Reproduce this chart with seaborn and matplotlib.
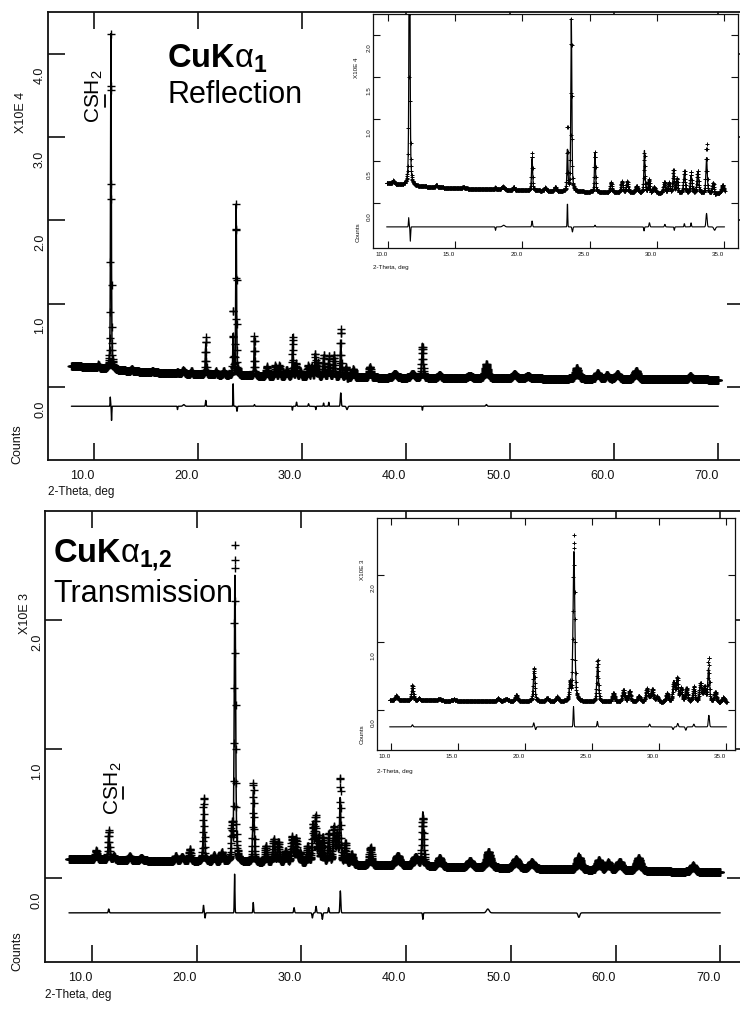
import numpy as np
import pandas as pd
import seaborn as sns
import matplotlib
matplotlib.use("Agg")
import matplotlib.pyplot as plt
from matplotlib import transforms
from matplotlib.lines import Line2D
from matplotlib.font_manager import FontProperties

W, H, DPI = 740, 1010, 100

# ---------------------------------------------------------------- data
# scan range (deg 2-theta) and step
scan_start, scan_end, scan_step = 7.8, 70.0, 0.02
inset_start, inset_end = 9.9, 35.05

# Reflection geometry, CuKa1 -- intensities in units of 1e4 counts
refl_bg_tt = [7.8, 10.0, 12.0, 15.0, 20.0, 25.0, 30.0, 35.0, 40.0, 50.0, 60.0, 70.0]
refl_bg = [0.255, 0.235, 0.205, 0.18, 0.155, 0.135, 0.12, 0.115, 0.11, 0.105, 0.095, 0.09]
refl_peak_tt = [10.4, 11.6, 13.6, 15.6, 18.0, 18.5, 19.35, 20.72, 21.7, 22.45, 23.35, 23.64,
                25.4, 26.6, 27.4, 27.8, 28.5, 29.08, 29.4, 29.8, 30.55, 30.9, 31.25, 31.5,
                32.05, 32.55, 33.05, 33.7, 34.2, 34.9, 36.5, 38.9, 40.6, 41.55, 43.2, 46.1,
                47.7, 50.4, 51.7, 56.4, 58.4, 59.3, 60.3, 62.1, 67.3]
refl_peak_I = [0.04, 4.03, 0.025, 0.015, 0.04, 0.025, 0.04, 0.38, 0.04, 0.05, 0.5, 2.05,
               0.46, 0.12, 0.13, 0.13, 0.08, 0.5, 0.13, 0.07, 0.12, 0.12, 0.28, 0.17,
               0.23, 0.21, 0.26, 0.42, 0.13, 0.1, 0.13, 0.05, 0.05, 0.42, 0.04, 0.03,
               0.15, 0.05, 0.03, 0.13, 0.07, 0.05, 0.06, 0.1, 0.04]
refl_peak_fwhm = [0.15, 0.085, 0.15, 0.2, 0.1, 0.2, 0.12, 0.1, 0.15, 0.15, 0.08, 0.09,
                  0.1, 0.15, 0.15, 0.15, 0.2, 0.1, 0.12, 0.2, 0.15, 0.15, 0.12, 0.12,
                  0.15, 0.15, 0.15, 0.12, 0.15, 0.2, 0.2, 0.4, 0.4, 0.15, 0.3, 0.4,
                  0.35, 0.4, 0.4, 0.35, 0.35, 0.3, 0.4, 0.4, 0.35]
refl_resid_tt = [11.54, 11.66, 18.0, 18.6, 20.72, 23.35, 23.72, 25.4, 29.05, 29.45, 30.6,
                 31.3, 32.05, 32.55, 33.7, 34.3, 41.55, 47.7]
refl_resid_amp = [0.11, -0.17, -0.04, 0.02, 0.07, 0.30, -0.06, 0.02, -0.05, 0.05, 0.03,
                  -0.04, 0.04, 0.05, 0.16, -0.04, -0.05, 0.02]
refl_resid_w = [0.05, 0.05, 0.06, 0.2, 0.08, 0.05, 0.08, 0.08, 0.06, 0.08, 0.08,
                0.06, 0.06, 0.06, 0.1, 0.15, 0.06, 0.15]

# Transmission geometry, CuKa1,2 -- intensities in units of 1e3 counts
trans_bg_tt = [7.8, 10.0, 15.0, 20.0, 25.0, 30.0, 35.0, 40.0, 50.0, 60.0, 70.0]
trans_bg = [0.15, 0.145, 0.135, 0.13, 0.12, 0.11, 0.10, 0.09, 0.075, 0.055, 0.045]
trans_peak_tt = [10.4, 11.6, 12.1, 13.6, 14.7, 18.0, 18.6, 19.35, 20.68, 21.65, 22.4, 23.35,
                 23.65, 25.42, 26.6, 27.35, 27.8, 28.5, 29.1, 29.5, 29.86, 30.6, 31.1, 31.35,
                 31.65, 32.05, 32.6, 33.1, 33.4, 33.7, 34.2, 34.8, 36.6, 39.2, 40.9, 41.6,
                 43.2, 46.1, 47.9, 50.5, 52.0, 56.5, 58.4, 59.3, 60.4, 62.2, 67.4]
trans_peak_I = [0.07, 0.2, 0.03, 0.03, 0.02, 0.04, 0.03, 0.09, 0.45, 0.05, 0.07, 0.25,
                2.25, 0.55, 0.13, 0.18, 0.16, 0.09, 0.2, 0.19, 0.08, 0.13, 0.3, 0.32,
                0.2, 0.22, 0.19, 0.28, 0.22, 0.5, 0.16, 0.08, 0.14, 0.08, 0.07, 0.42,
                0.07, 0.05, 0.1, 0.07, 0.05, 0.13, 0.08, 0.06, 0.07, 0.1, 0.05]
trans_peak_fwhm = [0.2, 0.15, 0.2, 0.25, 0.3, 0.2, 0.3, 0.18, 0.15, 0.2, 0.2, 0.12,
                   0.15, 0.15, 0.2, 0.2, 0.2, 0.25, 0.2, 0.2, 0.2, 0.2, 0.18, 0.18,
                   0.18, 0.2, 0.2, 0.2, 0.2, 0.15, 0.2, 0.25, 0.25, 0.5, 0.5, 0.2,
                   0.4, 0.5, 0.5, 0.5, 0.5, 0.4, 0.4, 0.4, 0.5, 0.5, 0.4]
trans_resid_tt = [11.6, 20.65, 20.8, 23.62, 25.4, 29.3, 31.05, 31.4, 32.0, 32.6, 33.72,
                  41.6, 47.8, 56.5]
trans_resid_amp = [0.03, 0.06, -0.04, 0.30, 0.08, 0.04, -0.04, 0.05, -0.05, 0.04, 0.17,
                   -0.05, 0.03, -0.035]
trans_resid_w = [0.1, 0.08, 0.08, 0.07, 0.08, 0.1, 0.1, 0.1, 0.1, 0.1, 0.1,
                 0.08, 0.3, 0.2]

x_ticks_main = [10, 20, 30, 40, 50, 60, 70]
x_ticks_inset = [10, 15, 20, 25, 30, 35]


# ---------------------------------------------------------------- profile model
def pseudo_voigt(tt, pos, height, fwhm, eta=0.5):
    d2 = (tt - pos) ** 2 / fwhm ** 2
    return height * (eta / (1 + 4 * d2) + (1 - eta) * np.exp(-4 * np.log(2) * d2))


def gaussian(tt, pos, amp, fwhm):
    return amp * np.exp(-4 * np.log(2) * (tt - pos) ** 2 / fwhm ** 2)


def build_pattern(bg_tt, bg, p_tt, p_i, p_w, r_tt, r_a, r_w):
    tt = np.round(np.arange(scan_start, scan_end + 1e-9, scan_step), 4)
    calc = np.interp(tt, bg_tt, bg)
    for p, i, w in zip(p_tt, p_i, p_w):
        calc = calc + pseudo_voigt(tt, p, i, w)
    resid = np.zeros_like(tt)
    for p, a, w in zip(r_tt, r_a, r_w):
        resid = resid + gaussian(tt, p, a, w)
    return pd.DataFrame({"tt": tt, "calc": calc, "obs": calc + resid, "diff": resid})


refl = build_pattern(refl_bg_tt, refl_bg, refl_peak_tt, refl_peak_I, refl_peak_fwhm,
                     refl_resid_tt, refl_resid_amp, refl_resid_w)
trans = build_pattern(trans_bg_tt, trans_bg, trans_peak_tt, trans_peak_I, trans_peak_fwhm,
                      trans_resid_tt, trans_resid_amp, trans_resid_w)

# ---------------------------------------------------------------- style
sns.set_theme(style="ticks")
plt.rcParams["font.family"] = ["Liberation Sans", "DejaVu Sans"]
plt.rcParams["mathtext.fontset"] = "custom"
plt.rcParams["mathtext.rm"] = "Liberation Sans"
plt.rcParams["mathtext.bf"] = "Liberation Sans:bold"
plt.rcParams["mathtext.it"] = "Liberation Sans:italic"
plt.rcParams["axes.edgecolor"] = "#111111"
plt.rcParams["xtick.color"] = "#111111"
plt.rcParams["ytick.color"] = "#111111"

fig = plt.figure(figsize=(W / DPI, H / DPI), dpi=DPI)


def rect(left, top, right, bottom):
    return [left / W, 1 - bottom / H, (right - left) / W, (bottom - top) / H]


def fx(x):
    return x / W


def fy(y):
    return 1 - y / H


def ytick_texts(ax, values, labels, dx, dy, size):
    base = transforms.blended_transform_factory(ax.transAxes, ax.transData)
    tr = transforms.offset_copy(base, fig=fig, x=dx, y=dy, units="dots")
    for v, lab in zip(values, labels):
        ax.text(0, v, lab, transform=tr, rotation=90, ha="center", va="center",
                fontsize=size, clip_on=False, color="#111111")


def draw_pattern(ax, df, offset, ms, mlw, lw):
    sns.scatterplot(data=df, x="tt", y="obs", marker="+", s=ms, linewidth=mlw,
                    color="black", ax=ax, legend=False, zorder=2)
    sns.lineplot(data=df, x="tt", y="calc", color="black", lw=lw, ax=ax,
                 estimator=None, sort=False, legend=False, zorder=3)
    sns.lineplot(x=df["tt"], y=df["diff"] + offset, color="black", lw=lw * 0.9, ax=ax,
                 estimator=None, sort=False, legend=False, zorder=3)
    ax.set_xlabel("")
    ax.set_ylabel("")


def style_main(ax, xlim, ylim, yticks):
    ax.set_xlim(*xlim)
    ax.set_ylim(*ylim)
    ax.set_xticks(x_ticks_main)
    ax.set_xticklabels([f"{t:.1f}" for t in x_ticks_main], ha="right")
    ax.set_yticks(yticks)
    ax.tick_params(axis="both", direction="in", length=12, width=1.2,
                   top=True, right=True, labelleft=False, labelsize=9, pad=7)
    for s in ax.spines.values():
        s.set_linewidth(1.3)
    ax.spines["right"].set_visible(False)
    ytick_texts(ax, yticks, [f"{v:.1f}" for v in yticks], -8, -22, 9)


def style_inset(ax, xlim, ylim, yticks):
    ax.set_facecolor("white")
    ax.set_xlim(*xlim)
    ax.set_ylim(*ylim)
    ax.set_xticks(x_ticks_inset)
    ax.set_xticklabels([f"{t:.1f}" for t in x_ticks_inset], ha="right")
    ax.set_yticks(yticks)
    ax.tick_params(axis="both", direction="in", length=5, width=0.8,
                   top=True, right=True, labelleft=False, labelsize=4.5, pad=3)
    for s in ax.spines.values():
        s.set_linewidth(0.9)
    ytick_texts(ax, yticks, [f"{v:.1f}" for v in yticks], -4, -13, 4.5)


# ---------------------------------------------------------------- top: reflection
ax1 = fig.add_axes(rect(48, 12, 744, 460))
draw_pattern(ax1, refl, -0.23, 36, 1.0, 1.1)
style_main(ax1, (5.55, 72.47), (-0.875, 4.50), [0, 1, 2, 3, 4])

in1 = fig.add_axes(rect(373, 14, 738, 248), zorder=5)
sub1 = refl[(refl.tt >= inset_start) & (refl.tt <= inset_end)]
draw_pattern(in1, sub1, -0.28, 9, 0.7, 0.9)
style_inset(in1, (8.884, 36.04), (-0.531, 2.251), [0.0, 0.5, 1.0, 1.5, 2.0])

# ---------------------------------------------------------------- bottom: transmission
ax2 = fig.add_axes(rect(45, 511, 744, 962))
draw_pattern(ax2, trans, -0.27, 36, 1.0, 1.1)
style_main(ax2, (5.511, 72.27), (-0.651, 2.845), [0, 1, 2])

in2 = fig.add_axes(rect(377, 518, 735, 750), zorder=5)
sub2 = trans[(trans.tt >= inset_start) & (trans.tt <= inset_end)]
draw_pattern(in2, sub2, -0.25, 9, 0.7, 0.9)
style_inset(in2, (8.955, 35.67), (-0.593, 2.844), [0.0, 1.0, 2.0])

# ---------------------------------------------------------------- axis captions
cap = dict(color="#111111")
fig.text(fx(21), fy(112), "X10E 4", rotation=90, ha="center", va="center", fontsize=9, **cap)
fig.text(fx(17), fy(444), "Counts", rotation=90, ha="center", va="center", fontsize=9, **cap)
fig.text(fx(48), fy(492), "2-Theta, deg", ha="left", va="center", fontsize=8.5, **cap)
fig.text(fx(25), fy(613), "X10E 3", rotation=90, ha="center", va="center", fontsize=9, **cap)
fig.text(fx(17), fy(951), "Counts", rotation=90, ha="center", va="center", fontsize=9, **cap)
fig.text(fx(45), fy(995), "2-Theta, deg", ha="left", va="center", fontsize=8.5, **cap)

fig.text(fx(357), fy(68), "X10E 4", rotation=90, ha="center", va="center", fontsize=4.5, zorder=6, **cap)
fig.text(fx(358), fy(232), "Counts", rotation=90, ha="center", va="center", fontsize=4.5, zorder=6, **cap)
fig.text(fx(373), fy(268), "2-Theta, deg", ha="left", va="center", fontsize=4.5, zorder=6, **cap)
fig.text(fx(362), fy(570), "X10E 3", rotation=90, ha="center", va="center", fontsize=4.5, zorder=6, **cap)
fig.text(fx(362), fy(734), "Counts", rotation=90, ha="center", va="center", fontsize=4.5, zorder=6, **cap)
fig.text(fx(377), fy(771), "2-Theta, deg", ha="left", va="center", fontsize=4.5, zorder=6, **cap)

# ---------------------------------------------------------------- annotations
fig.text(fx(167), fy(68), r"$\mathbf{CuK}\mathrm{\alpha}_{\mathbf{1}}$", ha="left",
         va="baseline", fontsize=23.5, color="black")
fig.text(fx(167), fy(103), "Reflection", ha="left", va="baseline", fontsize=22,
         family="Liberation Sans", color="black")
fig.text(fx(53), fy(562), r"$\mathbf{CuK}\mathrm{\alpha}_{\mathbf{1{,}2}}$", ha="left",
         va="baseline", fontsize=23.5, color="black")
fig.text(fx(53), fy(602), "Transmission", ha="left", va="baseline", fontsize=22,
         family="Liberation Sans", color="black")

# gypsum label with underlined S
csh_font = FontProperties(family="Liberation Sans", size=15)
renderer = fig.canvas.get_renderer()
w_c = renderer.get_text_width_height_descent("C", csh_font, ismath=False)[0]
w_cs = renderer.get_text_width_height_descent("CS", csh_font, ismath=False)[0]
for bx, by in [(100, 123), (119, 815)]:
    fig.text(fx(bx), fy(by), r"CSH$_2$", rotation=90, rotation_mode="anchor",
             ha="left", va="baseline", fontproperties=csh_font, color="black")
    y0 = (H - by) + w_c + 1
    y1 = (H - by) + w_cs - 1
    fig.add_artist(Line2D([fx(bx + 4.5)] * 2, [y0 / H, y1 / H], transform=fig.transFigure,
                          color="black", lw=1.3))

fig.savefig("out.png", dpi=DPI, facecolor="white")
